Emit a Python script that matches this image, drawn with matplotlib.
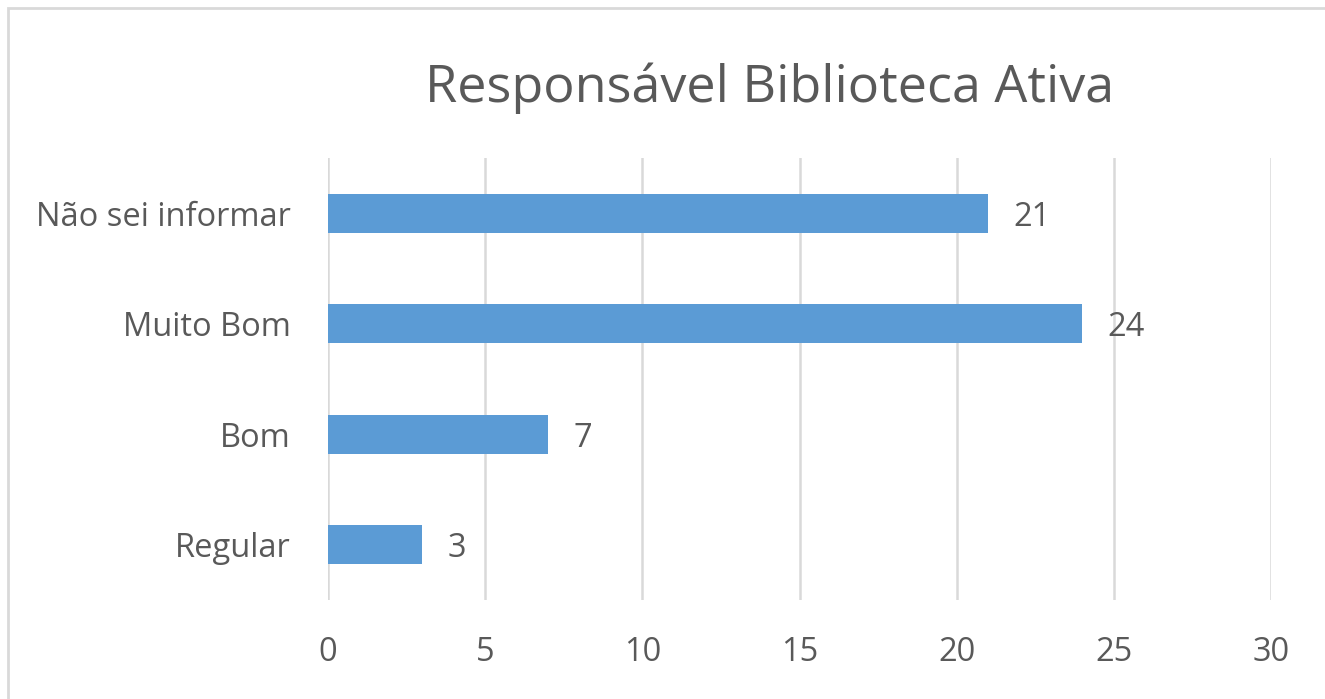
import matplotlib
matplotlib.use("Agg")
import matplotlib.pyplot as plt
from matplotlib.patches import Rectangle

categories = ["Regular", "Bom", "Muito Bom", "Não sei informar"]
values = [3, 7, 24, 21]
xticks = [0, 5, 10, 15, 20, 25, 30]
title = "Responsável Biblioteca Ativa"

plt.rcParams['font.family'] = ['Open Sans', 'DejaVu Sans']
W, H = 1325, 699
fig = plt.figure(figsize=(W / 100, H / 100), dpi=100)
fig.patch.set_facecolor("white")

# outer chart border
fig.add_artist(Rectangle((8 / W, -0.05), 1.2, 1 - 8 / H + 0.05, transform=fig.transFigure,
                         fill=False, edgecolor="#D9D9D9", linewidth=2))

ax = fig.add_axes([328 / W, 1 - 600 / H, (1271 - 328) / W, (600 - 158) / H])
text_color = "#595959"
ax.barh(range(len(categories)), values, height=0.35, color="#5B9BD5", zorder=3)
ax.set_xlim(0, 30)
ax.set_ylim(-0.5, len(categories) - 0.5)
ax.set_xticks(xticks)
ax.set_xticklabels([str(t) for t in xticks])
ax.set_yticks(range(len(categories)))
ax.set_yticklabels(categories)
ax.tick_params(axis='both', length=0, labelsize=23.5, colors=text_color)
ax.tick_params(axis='x', pad=26)
ax.tick_params(axis='y', pad=27)
for s in ax.spines.values():
    s.set_visible(False)
ax.xaxis.grid(True, color="#D9D9D9", linewidth=1.8, zorder=0)
ax.set_axisbelow(True)

for i, v in enumerate(values):
    ax.annotate(str(v), (v, i), xytext=(18, -3), textcoords="offset points",
                va="center", ha="left", fontsize=23.5, color=text_color)

fig.text(770 / W, 1 - 88 / H, title, ha="center", va="center", fontsize=37.5, color=text_color)

fig.savefig("out.png", dpi=100, facecolor="white")
